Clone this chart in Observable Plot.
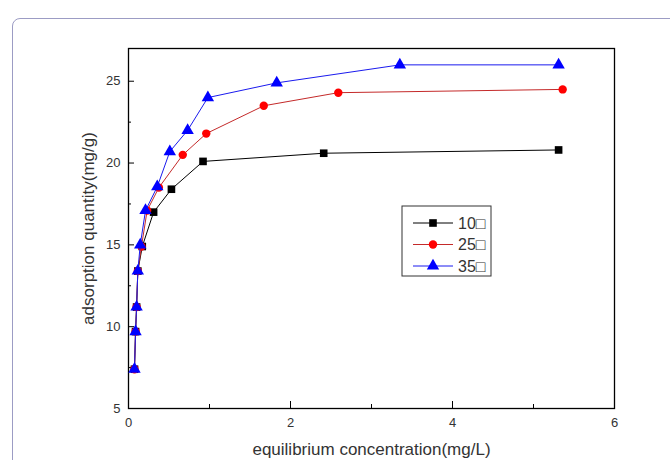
<!DOCTYPE html>
<html>
<head>
<meta charset="utf-8">
<script src="https://cdn.jsdelivr.net/npm/d3@7"></script>
<script src="https://cdn.jsdelivr.net/npm/@observablehq/plot@0.6"></script>
<style>
  html, body { margin: 0; padding: 0; background: #fff; }
  #wrap { position: relative; width: 670px; height: 460px; overflow: hidden; }
  #border { position: absolute; left: 12px; top: 18px; width: 700px; height: 500px;
            border: 1px solid #9c9cc4; border-radius: 8px; box-sizing: border-box; }
  #chart { position: absolute; left: 0; top: 0; }
</style>
</head>
<body>
<div id="wrap"><div id="border"></div><div id="chart"></div></div>
<script>
// Data
const seriesNames = ["10□", "25□", "35□"];
const x10 = [0.074, 0.087, 0.10, 0.115, 0.17, 0.31, 0.53, 0.92, 2.41, 5.31];
const y10 = [7.4, 9.7, 11.2, 13.4, 14.9, 17.0, 18.4, 20.1, 20.6, 20.8];
const x25 = [0.074, 0.087, 0.10, 0.115, 0.16, 0.23, 0.375, 0.67, 0.96, 1.67, 2.59, 5.36];
const y25 = [7.4, 9.7, 11.2, 13.4, 14.9, 17.1, 18.5, 20.5, 21.8, 23.5, 24.3, 24.5];
const x35 = [0.074, 0.087, 0.10, 0.115, 0.145, 0.21, 0.355, 0.51, 0.73, 0.98, 1.83, 3.35, 5.31];
const y35 = [7.4, 9.7, 11.2, 13.4, 15.0, 17.1, 18.55, 20.7, 22.0, 24.0, 24.9, 26.0, 26.0];
const xMajor = [0, 2, 4, 6];
const xMinor = [1, 3, 5];
const yMajor = [5, 10, 15, 20, 25];
const yMinor = [7.5, 12.5, 17.5, 22.5];
const xLabel = "equilibrium concentration(mg/L)";
const yLabel = "adsorption quantity(mg/g)";

const toRows = (xs, ys) => xs.map((x, i) => ({x, y: ys[i]}));
const d10 = toRows(x10, y10), d25 = toRows(x25, y25), d35 = toRows(x35, y35);

const styles = [
  {line: "#000000", fill: "#000000", symbol: "square", r: 4.3},
  {line: "#c42a2a", fill: "#ff0000", symbol: "circle", r: 4.2},
  {line: "#1a1aee", fill: "#0000ff", symbol: "triangle", r: 4.6}
];
const font = "Liberation Sans, Arial, sans-serif";
const W = 670, H = 460, ML = 128, MR = 56, MT = 48, MB = 52;
const innerW = W - ML - MR, innerH = H - MT - MB;

const chart = Plot.plot({
  width: W, height: H,
  marginLeft: ML, marginRight: MR, marginTop: MT, marginBottom: MB,
  style: {fontFamily: font, background: "transparent", overflow: "visible"},
  x: {domain: [0, 6]},
  y: {domain: [5, 27]},
  marks: [
    // inward tick marks
    Plot.tickX(xMajor, {x: d => d, insetTop: innerH - 7, stroke: "#000"}),
    Plot.tickX(xMinor, {x: d => d, insetTop: innerH - 4, stroke: "#000"}),
    Plot.tickY(yMajor, {y: d => d, insetRight: innerW - 6, stroke: "#000"}),
    Plot.tickY(yMinor, {y: d => d, insetRight: innerW - 3, stroke: "#000"}),
    Plot.frame({stroke: "#000", strokeWidth: 1.3}),
    Plot.axisX({ticks: xMajor, tickSize: 0, tickPadding: 9, color: "#333",
                tickFormat: d3.format("d"), label: xLabel,
                labelAnchor: "center", labelArrow: "none", labelOffset: 46}),
    Plot.axisY({ticks: yMajor, tickSize: 0, tickPadding: 8, color: "#333",
                tickFormat: d3.format("d"), label: yLabel,
                labelAnchor: "center", labelArrow: "none", labelOffset: 47}),
    ...[d10, d25, d35].flatMap((d, i) => [
      Plot.line(d, {x: "x", y: "y", stroke: styles[i].line, strokeWidth: 1}),
      Plot.dot(d, {x: "x", y: "y", symbol: () => styles[i].symbol, fill: styles[i].fill, stroke: "none", r: styles[i].r})
    ])
  ]
});

const sel = d3.select(chart);
sel.selectAll("g[aria-label='x-axis label'], g[aria-label='y-axis label']")
  .attr("font-size", 17).attr("fill", "#333");
sel.selectAll("g[aria-label='x-axis label'] text, g[aria-label='y-axis label'] text")
  .attr("font-size", 17).attr("fill", "#333");
sel.selectAll("g[aria-label='x-axis tick label'], g[aria-label='y-axis tick label']")
  .attr("font-size", 13).attr("fill", "#333");
sel.selectAll("g[aria-label='x-axis tick label'] text, g[aria-label='y-axis tick label'] text")
  .attr("font-size", 13).attr("fill", "#333");

document.getElementById("chart").appendChild(chart);

// Legend (drawn inside the SVG)
const lg = sel.append("g").attr("transform", "translate(402,206)").attr("text-anchor", "start");
lg.append("rect").attr("width", 89).attr("height", 70).attr("fill", "#fff").attr("stroke", "#333").attr("stroke-width", 1);
const symGen = {square: d3.symbolSquare, circle: d3.symbolCircle, triangle: d3.symbolTriangle};
seriesNames.forEach((name, i) => {
  const cy = 17 + i * 21.5;
  const g = lg.append("g").attr("transform", `translate(0,${cy})`);
  g.append("line").attr("x1", 11).attr("x2", 51).attr("y1", 0).attr("y2", 0)
    .attr("stroke", styles[i].line).attr("stroke-width", 1);
  g.append("path").attr("transform", "translate(31,0)")
    .attr("d", d3.symbol(symGen[styles[i].symbol], Math.PI * styles[i].r * styles[i].r)())
    .attr("fill", styles[i].fill);
  g.append("text").attr("x", 56).attr("y", 0).attr("dy", "0.36em").attr("text-anchor", "start")
    .attr("font-family", font).attr("font-size", 16).attr("fill", "#333").text(name);
});
</script>
</body>
</html>
